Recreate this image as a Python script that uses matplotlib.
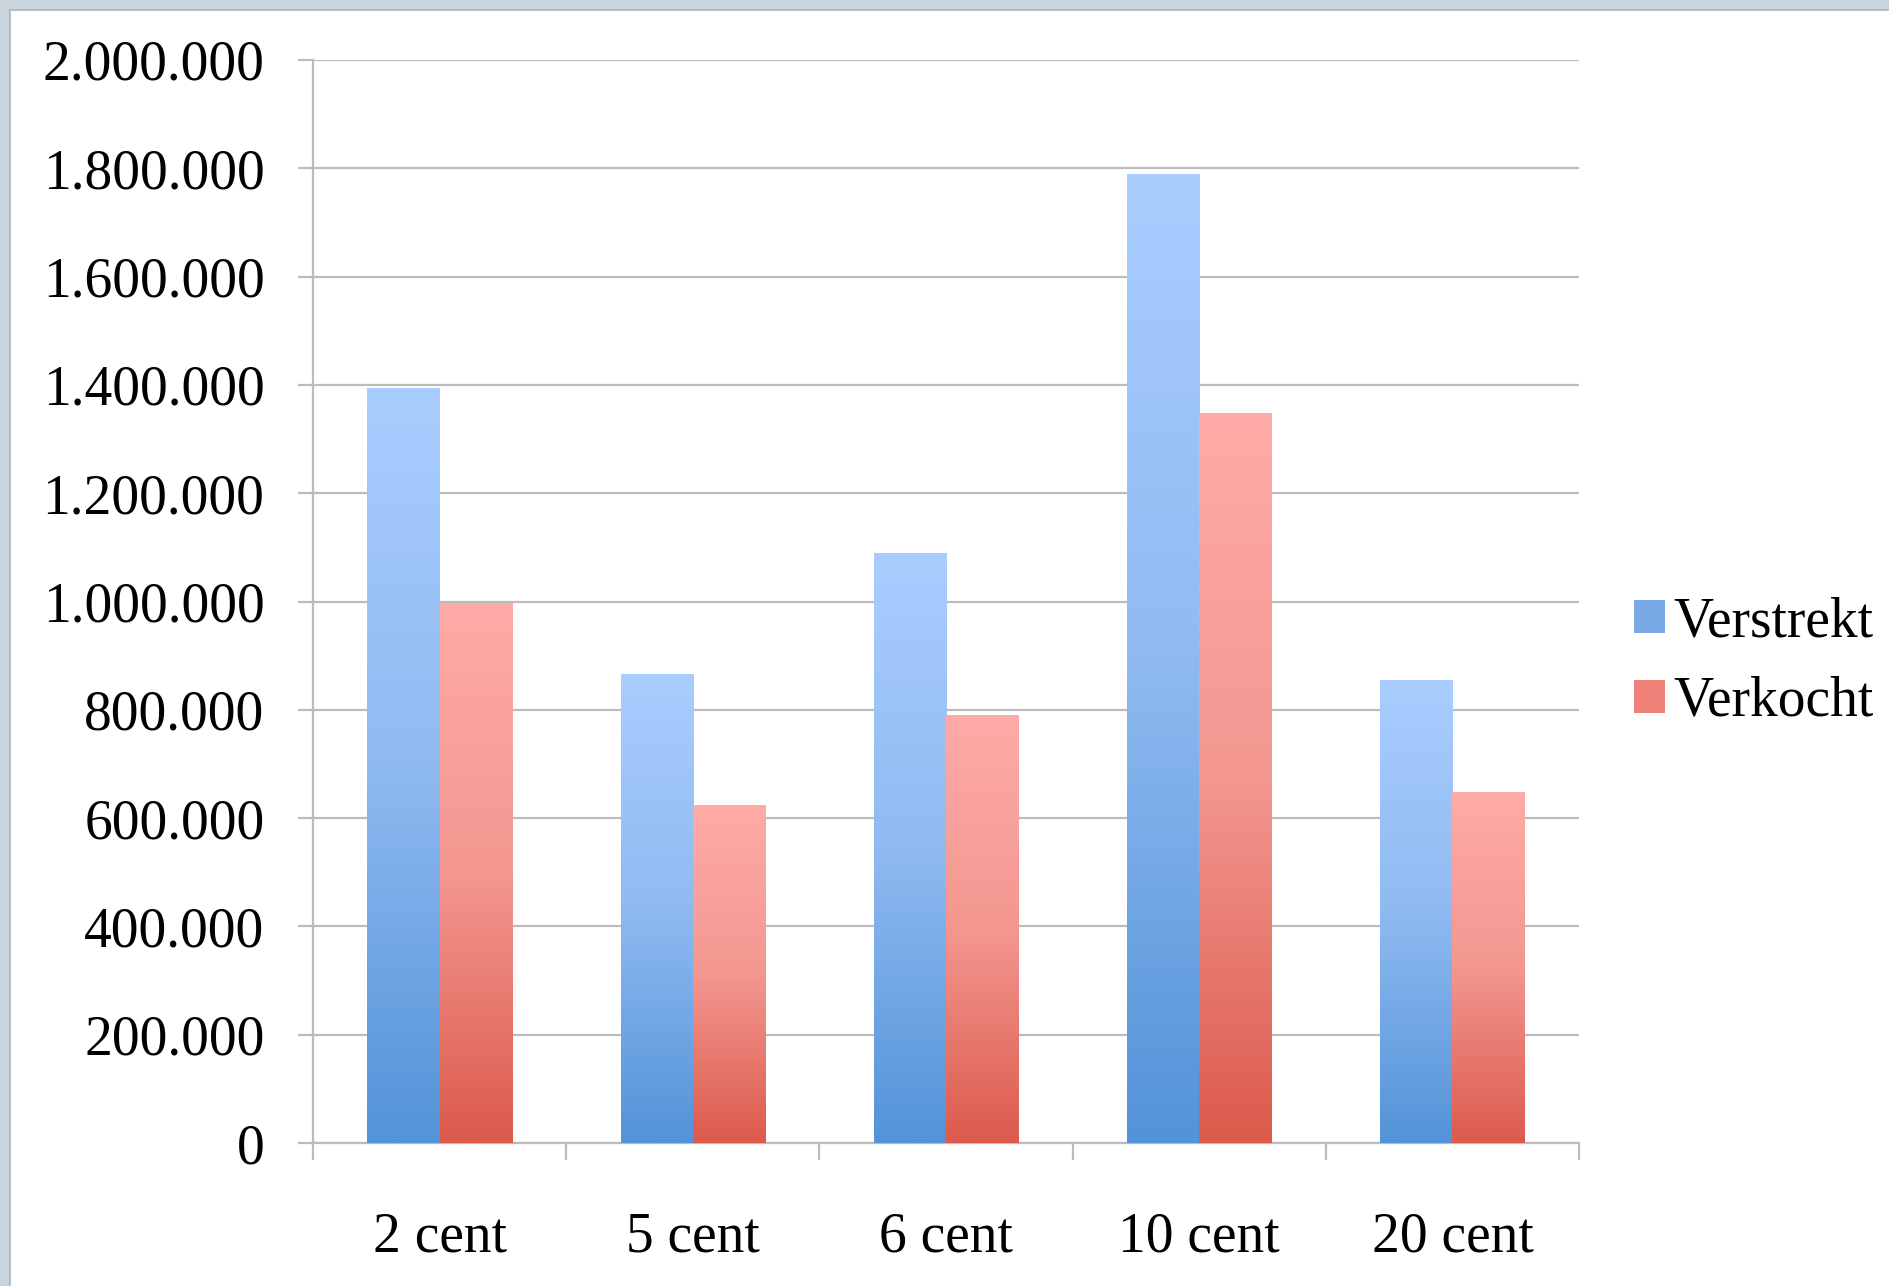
import numpy as np
import matplotlib
matplotlib.use("Agg")
import matplotlib.pyplot as plt
from matplotlib.colors import LinearSegmentedColormap
from matplotlib.patches import Rectangle, Patch
from matplotlib.ticker import FuncFormatter, FixedLocator

# data
categories = ["2 cent", "5 cent", "6 cent", "10 cent", "20 cent"]
verstrekt = [1394000, 866000, 1088000, 1789000, 854000]
verkocht = [997000, 623000, 789000, 1347000, 648000]
series_names = ["Verstrekt", "Verkocht"]

plt.rcParams["font.family"] = ["Liberation Serif", "DejaVu Serif"]

W, H = 1890, 1286
fig = plt.figure(figsize=(W / 100, H / 100), dpi=100, facecolor="#c9d4dc")
# white sheet inside the light frame
fig.patches.append(Rectangle((10 / W, -0.1), 1, 0.1 + (H - 10) / H, transform=fig.transFigure,
                             facecolor="white", edgecolor="#aab4bb", linewidth=1.2, zorder=-5))

ax = fig.add_axes([313 / W, (H - 1143) / H, (1579 - 313) / W, (1143 - 60) / H])
ax.set_facecolor("none")

grid_col = "#bcbcbc"
blue_cm = LinearSegmentedColormap.from_list("b", [(0, "#5393d8"), (0.5, "#8fbaf1"), (1, "#aacdff")])
red_cm = LinearSegmentedColormap.from_list("r", [(0, "#dc5a4c"), (0.5, "#f39790"), (1, "#ffaba7")])

x = np.arange(len(categories))
bw = 0.285
bars1 = ax.bar(x - bw / 2, verstrekt, bw, facecolor="none", edgecolor="none", zorder=3)
bars2 = ax.bar(x + bw / 2, verkocht, bw, facecolor="none", edgecolor="none", zorder=3)

grad = np.linspace(0, 1, 256).reshape(-1, 1)
for bars, cm in [(bars1, blue_cm), (bars2, red_cm)]:
    for r in bars:
        x0, w, h = r.get_x(), r.get_width(), r.get_height()
        ax.imshow(grad, extent=[x0, x0 + w, 0, h], origin="lower", cmap=cm,
                  aspect="auto", zorder=3, interpolation="bilinear")

ax.set_xlim(-0.5, len(categories) - 0.5)
ax.set_ylim(0, 2000000)

ax.set_yticks(np.arange(0, 2000001, 200000))
ax.yaxis.set_major_formatter(FuncFormatter(lambda v, p: "{:,.0f}".format(v).replace(",", ".")))
ax.grid(axis="y", color=grid_col, linewidth=1.6, zorder=1)
ax.set_axisbelow(True)

ax.set_xticks(x)
ax.set_xticklabels(categories)
ax.xaxis.set_minor_locator(FixedLocator(np.arange(-0.5, len(categories), 1)))
ax.tick_params(axis="x", which="major", length=0, pad=49, labelsize=40)
ax.tick_params(axis="x", which="minor", length=12, width=1.6, color=grid_col, direction="out")
ax.tick_params(axis="y", length=11, width=1.6, color=grid_col, pad=24, labelsize=40)

for s in ["top", "right"]:
    ax.spines[s].set_visible(False)
for s in ["left", "bottom"]:
    ax.spines[s].set_color(grid_col)
    ax.spines[s].set_linewidth(1.6)

handles = [Patch(facecolor="#7aaae6", edgecolor="none"), Patch(facecolor="#ee8078", edgecolor="none")]
fig.legend(handles, series_names, loc="center left", bbox_to_anchor=(1634 / W, 1 - 662 / H),
           frameon=False, fontsize=40, handlelength=0.55, handleheight=0.55,
           handletextpad=0.15, labelspacing=0.5, borderpad=0, borderaxespad=0)

fig.savefig("out.png", dpi=100, facecolor=fig.get_facecolor())
